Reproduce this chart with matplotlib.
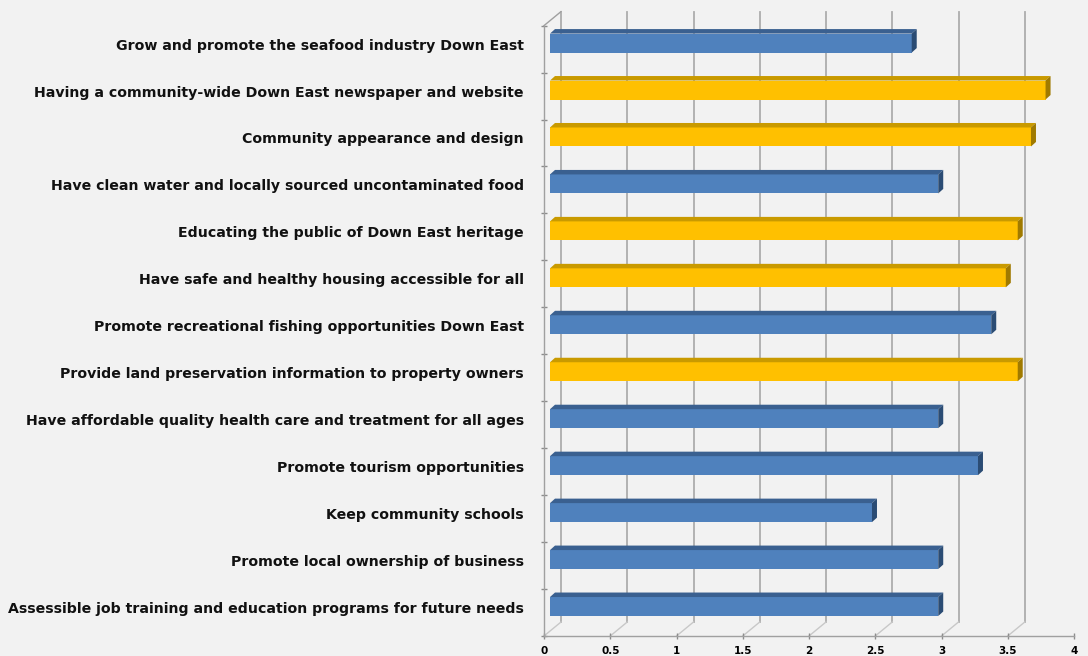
import numpy as np
import matplotlib.pyplot as plt
from matplotlib.patches import Polygon, Rectangle

labels = [
    "Grow and promote the seafood industry Down East",
    "Having a community-wide Down East newspaper and website",
    "Community appearance and design",
    "Have clean water and locally sourced uncontaminated food",
    "Educating the public of Down East heritage",
    "Have safe and healthy housing accessible for all",
    "Promote recreational fishing opportunities Down East",
    "Provide land preservation information to property owners",
    "Have affordable quality health care and treatment for all ages",
    "Promote tourism opportunities",
    "Keep community schools",
    "Promote local ownership of business",
    "Assessible job training and education programs for future needs",
]
values = [2.73, 3.74, 3.63, 2.93, 3.53, 3.44, 3.33, 3.53, 2.93, 3.23, 2.43, 2.93, 2.93]
groups = ["blue", "gold", "gold", "blue", "gold", "gold", "blue", "gold",
          "blue", "blue", "blue", "blue", "blue"]
xticks = [0, 0.5, 1, 1.5, 2, 2.5, 3, 3.5, 4]

# front / top / side colours for the fake 3d bars
colors = {
    "blue": ("#4f81bd", "#3a6090", "#2b4c74"),
    "gold": ("#ffc000", "#c99a00", "#a07a00"),
}

W, H = 1088, 656
fig = plt.figure(figsize=(W / 100, H / 100), dpi=100, facecolor="#f2f2f2")
ax = fig.add_axes([544 / W, 20 / H, 530 / W, 610.4 / H])
ax.set_facecolor("#f2f2f2")
n = len(labels)
ax.set_xlim(0, 4)
ax.set_ylim(n - 0.5, -0.5)

# data units per pixel
dxu = 4 / 530
dyu = n / 610.4
wall = (17 * dxu, -14 * dyu)   # depth of the whole plot box

# back wall gridlines + floor diagonals
for v in xticks[:-1]:
    ax.plot([v + wall[0]] * 2, [n - 0.5 + wall[1], -0.5 + wall[1]],
            color="#adadad", lw=1.3, clip_on=False, zorder=1)
    ax.plot([v, v + wall[0]], [n - 0.5, n - 0.5 + wall[1]],
            color="#c8c8c8", lw=1.0, clip_on=False, zorder=1)
ax.plot([0, wall[0]], [-0.5, -0.5 + wall[1]], color="#a0a0a0", lw=1.0,
        clip_on=False, zorder=1)

# bars
ox, oy = 6 * dxu, -6 * dyu
h = 19 * dyu
dx, dy = 5 * dxu, -4.5 * dyu
for i, (v, g) in enumerate(zip(values, groups)):
    front, topc, sidec = colors[g]
    top = i + oy - h / 2
    bot = i + oy + h / 2
    ax.add_patch(Rectangle((ox, top), v, h, facecolor=front, edgecolor="none", zorder=3))
    ax.add_patch(Polygon([(ox, top), (ox + v, top), (ox + v + dx, top + dy), (ox + dx, top + dy)],
                         closed=True, facecolor=topc, edgecolor="none", zorder=3))
    ax.add_patch(Polygon([(ox + v, top), (ox + v + dx, top + dy), (ox + v + dx, bot + dy), (ox + v, bot)],
                         closed=True, facecolor=sidec, edgecolor="none", zorder=3))
    ax.text(-20 * dxu, i - 3.5 * dyu, labels[i], ha="right", va="center",
            fontsize=10.2, fontweight="bold", color="#111111", family="DejaVu Sans")

for s in ["top", "right"]:
    ax.spines[s].set_visible(False)
for s in ["left", "bottom"]:
    ax.spines[s].set_color("#a0a0a0")
    ax.spines[s].set_linewidth(1.0)

ax.set_xticks(xticks)
ax.set_xticklabels([f"{t:g}" for t in xticks], fontsize=7.5, fontweight="bold")
ax.set_yticks(np.arange(-0.5, n, 1))
ax.set_yticklabels([])
ax.tick_params(axis="both", direction="inout", length=5, color="#8c8c8c", width=1.0)
ax.tick_params(axis="x", pad=5)

fig.savefig("out.png", dpi=100, facecolor=fig.get_facecolor())
